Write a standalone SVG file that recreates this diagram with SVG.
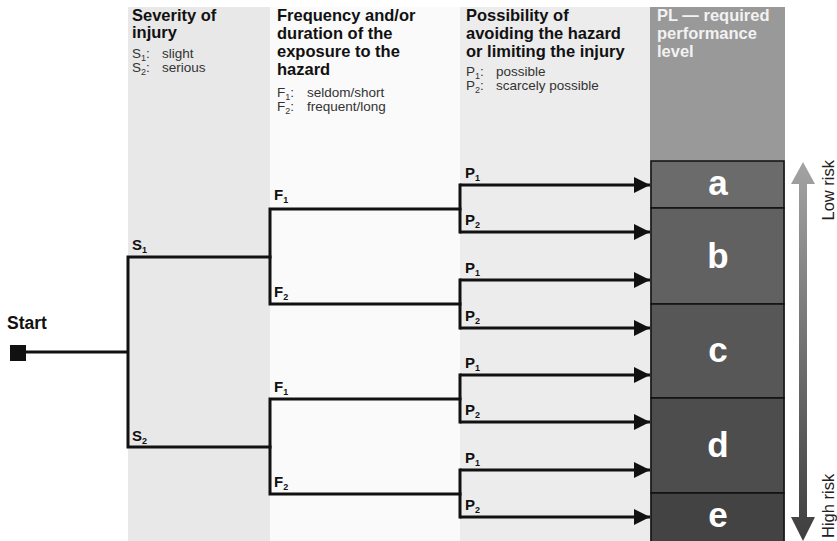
<svg xmlns="http://www.w3.org/2000/svg" width="837" height="541" viewBox="0 0 837 541">
  <style>
    .hd { font-family: "Liberation Sans", Arial, sans-serif; font-weight: bold; font-size: 16.5px; fill: #111; }
    .hdw { font-family: "Liberation Sans", Arial, sans-serif; font-weight: bold; font-size: 16.5px; fill: #f2f2f2; }
    .sm { font-family: "Liberation Sans", Arial, sans-serif; font-size: 13.5px; fill: #333; }
    .lb { font-family: "Liberation Sans", Arial, sans-serif; font-weight: bold; font-size: 15px; fill: #111; }
    .st { font-family: "Liberation Sans", Arial, sans-serif; font-weight: bold; font-size: 17.5px; fill: #111; }
    .sub { font-size: 9px; }
    .pl { font-family: "Liberation Sans", Arial, sans-serif; font-weight: bold; font-size: 35px; fill: #fff; text-anchor: middle; }
    .risk { font-family: "Liberation Sans", Arial, sans-serif; font-size: 16.5px; fill: #222; }
    .ln { fill: none; stroke: #111; stroke-width: 3; stroke-linecap: square; }
    .box { stroke: #111; stroke-width: 1.5; }
  </style>
  <defs>
    <marker id="ah" markerWidth="5.5" markerHeight="5.5" refX="5.5" refY="2.75" orient="auto" markerUnits="strokeWidth">
      <path d="M0,0 L5.5,2.75 L0,5.5 Z" fill="#111"/>
    </marker>
    <linearGradient id="rg" x1="0" y1="0" x2="0" y2="1">
      <stop offset="0" stop-color="#a3a3a3"/>
      <stop offset="1" stop-color="#3e3e3e"/>
    </linearGradient>
  </defs>
  <rect width="837" height="541" fill="#fff"/>
  <g id="columns">
    <rect x="128" y="7" width="142" height="534" fill="#e8e8e8"/>
    <rect x="270" y="7" width="190" height="534" fill="#fafafa"/>
    <rect x="460" y="7" width="190" height="534" fill="#ececec"/>
    <rect x="650" y="7" width="135" height="534" fill="#999"/>
  </g>
  <g id="header-severity">
    <text class="hd" x="132" y="21">Severity of</text>
    <text class="hd" x="132" y="38">injury</text>
    <text class="sm" x="132" y="58">S<tspan class="sub" dy="3">1</tspan><tspan dy="-3">:</tspan><tspan x="162">slight</tspan></text>
    <text class="sm" x="132" y="72">S<tspan class="sub" dy="3">2</tspan><tspan dy="-3">:</tspan><tspan x="162">serious</tspan></text>
  </g>
  <g id="header-frequency">
    <text class="hd" x="277" y="21">Frequency and/or</text>
    <text class="hd" x="277" y="39">duration of the</text>
    <text class="hd" x="277" y="57">exposure to the</text>
    <text class="hd" x="277" y="75">hazard</text>
    <text class="sm" x="277" y="97">F<tspan class="sub" dy="3">1</tspan><tspan dy="-3">:</tspan><tspan x="307">seldom/short</tspan></text>
    <text class="sm" x="277" y="111">F<tspan class="sub" dy="3">2</tspan><tspan dy="-3">:</tspan><tspan x="307">frequent/long</tspan></text>
  </g>
  <g id="header-possibility">
    <text class="hd" x="466" y="21">Possibility of</text>
    <text class="hd" x="466" y="39">avoiding the hazard</text>
    <text class="hd" x="466" y="57">or limiting the injury</text>
    <text class="sm" x="466" y="76">P<tspan class="sub" dy="3">1</tspan><tspan dy="-3">:</tspan><tspan x="496">possible</tspan></text>
    <text class="sm" x="466" y="90">P<tspan class="sub" dy="3">2</tspan><tspan dy="-3">:</tspan><tspan x="496">scarcely possible</tspan></text>
  </g>
  <g id="header-pl">
    <text class="hdw" x="657" y="21">PL — required</text>
    <text class="hdw" x="657" y="39">performance</text>
    <text class="hdw" x="657" y="57">level</text>
  </g>
  <g id="pl-a"><rect class="box" x="651" y="161" width="133" height="47" fill="#6b6b6b"/><text class="pl" x="718" y="195">a</text></g>
  <g id="pl-b"><rect class="box" x="651" y="208" width="133" height="96" fill="#616161"/><text class="pl" x="718" y="268">b</text></g>
  <g id="pl-c"><rect class="box" x="651" y="304" width="133" height="94" fill="#575757"/><text class="pl" x="718" y="362">c</text></g>
  <g id="pl-d"><rect class="box" x="651" y="398" width="133" height="95" fill="#4d4d4d"/><text class="pl" x="718" y="457">d</text></g>
  <g id="pl-e"><rect class="box" x="651" y="493" width="133" height="50" fill="#434343"/><text class="pl" x="718" y="527">e</text></g>
  <g id="start">
    <text class="st" x="7" y="329">Start</text>
    <rect x="10" y="345" width="16" height="16" fill="#111"/>
  </g>
  <g id="connectors">
    <path class="ln" d="M26,352 H128 M128,257 V447 M128,257 H270 M128,447 H270"/>
    <path class="ln" d="M270,209 V304 M270,209 H460 M270,304 H460 M270,399 V494 M270,399 H460 M270,494 H460"/>
    <path class="ln" d="M460,185 V232 M460,280 V328 M460,375 V422 M460,470 V517"/>
    <g stroke="#111" stroke-width="3" fill="none" marker-end="url(#ah)">
      <line x1="460" y1="185" x2="650" y2="185"/>
      <line x1="460" y1="232" x2="650" y2="232"/>
      <line x1="460" y1="280" x2="650" y2="280"/>
      <line x1="460" y1="328" x2="650" y2="328"/>
      <line x1="460" y1="375" x2="650" y2="375"/>
      <line x1="460" y1="422" x2="650" y2="422"/>
      <line x1="460" y1="470" x2="650" y2="470"/>
      <line x1="460" y1="517" x2="650" y2="517"/>
    </g>
  </g>
  <g id="labels-s">
    <text class="lb" x="132" y="250">S<tspan class="sub" dy="3">1</tspan></text>
    <text class="lb" x="132" y="441">S<tspan class="sub" dy="3">2</tspan></text>
  </g>
  <g id="labels-f">
    <text class="lb" x="274" y="200">F<tspan class="sub" dy="3">1</tspan></text>
    <text class="lb" x="274" y="297">F<tspan class="sub" dy="3">2</tspan></text>
    <text class="lb" x="274" y="392">F<tspan class="sub" dy="3">1</tspan></text>
    <text class="lb" x="274" y="487">F<tspan class="sub" dy="3">2</tspan></text>
  </g>
  <g id="labels-p">
    <text class="lb" x="465" y="178">P<tspan class="sub" dy="3">1</tspan></text>
    <text class="lb" x="465" y="225">P<tspan class="sub" dy="3">2</tspan></text>
    <text class="lb" x="465" y="273">P<tspan class="sub" dy="3">1</tspan></text>
    <text class="lb" x="465" y="321">P<tspan class="sub" dy="3">2</tspan></text>
    <text class="lb" x="465" y="368">P<tspan class="sub" dy="3">1</tspan></text>
    <text class="lb" x="465" y="415">P<tspan class="sub" dy="3">2</tspan></text>
    <text class="lb" x="465" y="463">P<tspan class="sub" dy="3">1</tspan></text>
    <text class="lb" x="465" y="510">P<tspan class="sub" dy="3">2</tspan></text>
  </g>
  <g id="risk-scale">
    <path d="M803,162 L815,184 L807,184 L807,517 L815,517 L803,541 L791,517 L799,517 L799,184 L791,184 Z" fill="url(#rg)"/>
    <text class="risk" transform="translate(834,160) rotate(-90)" text-anchor="end">Low risk</text>
    <text class="risk" transform="translate(834,538) rotate(-90)">High risk</text>
  </g>
</svg>
